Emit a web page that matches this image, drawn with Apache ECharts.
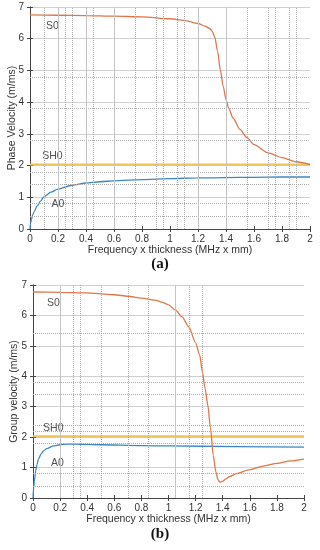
<!DOCTYPE html>
<html><head><meta charset="utf-8">
<script src="https://cdn.jsdelivr.net/npm/echarts@6/dist/echarts.min.js"></script>
<style>html,body{margin:0;padding:0;background:#fff}#c{width:320px;height:550px}</style>
</head><body><div id="c"></div>
<script>
// ---- (a) Phase velocity ----
const phaseS0F = [0,0.2,0.4,0.6,0.8,1.0,1.1,1.2,1.25,1.28,1.3,1.32,1.34,1.36,1.38,1.4,1.42,1.45,1.5,1.55,1.6,1.7,1.8,1.9,2.0];
const phaseS0V = [6.75,6.74,6.73,6.71,6.69,6.63,6.58,6.48,6.40,6.33,6.25,6.05,5.6,5.0,4.5,4.08,3.8,3.5,3.14,2.88,2.66,2.4,2.25,2.12,2.03];
const phaseA0F = [0,0.005,0.01,0.02,0.03,0.05,0.075,0.1,0.15,0.2,0.3,0.4,0.5,0.6,0.8,1.0,1.2,1.4,1.6,1.8,2.0];
const phaseA0V = [0,0.2,0.3,0.45,0.55,0.72,0.88,1.02,1.16,1.26,1.38,1.45,1.49,1.52,1.56,1.59,1.61,1.62,1.63,1.64,1.64];
const phaseSH0F = [0,2];
const phaseSH0V = [2.03,2.03];
// ---- (b) Group velocity ----
const groupS0F = [0,0.2,0.4,0.5,0.6,0.7,0.8,0.9,0.95,1.0,1.05,1.1,1.15,1.2,1.23,1.25,1.27,1.29,1.31,1.33,1.35,1.365,1.38,1.4,1.42,1.45,1.5,1.6,1.7,1.8,1.9,2.0];
const groupS0V = [6.77,6.76,6.74,6.71,6.68,6.63,6.57,6.5,6.44,6.35,6.18,5.95,5.62,5.1,4.7,4.15,3.6,3.05,2.3,1.4,0.85,0.6,0.52,0.55,0.62,0.7,0.8,0.93,1.05,1.14,1.22,1.28];
const groupA0F = [0,0.005,0.01,0.02,0.03,0.04,0.06,0.08,0.1,0.15,0.2,0.25,0.3,0.5,0.8,1.0,1.5,2.0];
const groupA0V = [0,0.35,0.55,0.9,1.1,1.28,1.45,1.56,1.62,1.71,1.75,1.77,1.77,1.75,1.72,1.71,1.69,1.67];
const groupSH0F = [0,2];
const groupSH0V = [2.03,2.03];
// mode labels [name, f, v]
const labelsA = [["S0",0.16,6.4],["SH0",0.16,2.3],["A0",0.2,0.78]];
const labelsB = [["S0",0.15,6.4],["SH0",0.15,2.3],["A0",0.18,1.15]];
// axis ticks
const xMin = 0, xMax = 2, xStep = 0.2;
const yMin = 0, yMax = 7, yStep = 1;
const xTitle = "Frequency x thickness (MHz x mm)";
const yTitleA = "Phase Velocity (m/ms)";
const yTitleB = "Group velocity (m/ms)";
// reference grid lines (background)
const gridAh = [0.4,0.8,1.4,1.8,2.8,3.8,4.8];
const gridAvSolid = [0.2,0.4,0.6,1.2,1.4];
const gridAvDot = [0.1,0.25,0.3,0.45,0.75,0.9,0.95,1.05,1.1,1.55,1.7,1.75,1.85,1.9];
const gridBh = [0.4,0.8,1.8,2.2,2.4,3.4,3.8,5.4];
const gridBvSolid = [0.2,1.05];
const gridBvDot = [0.3,0.35,0.5,0.7,0.85,1.15,1.25];

const C_S0 = '#e0764a', C_SH0 = '#efc257', C_A0 = '#3d88c4';
const FONT = 'Liberation Sans';
const zip = (a,b)=>a.map((x,i)=>[x,b[i]]);

function axesFor(g, yTitle, yGap) {
  const common = {gridIndex:g, min:xMin, max:xMax, interval:xStep};
  const yc = {gridIndex:g, min:yMin, max:yMax, interval:yStep};
  const lineS = {show:true, lineStyle:{color:'#444', width:1}};
  return {
    x:[
      Object.assign({}, common, {type:'value', position:'bottom', name:xTitle, nameLocation:'middle', nameGap:16,
        nameMoveOverlap:false,
        nameTextStyle:{fontFamily:FONT, fontSize:10.5, color:'#333'},
        axisLine:lineS, axisTick:{inside:true, length:3, lineStyle:{color:'#444'}},
        axisLabel:{fontFamily:FONT, fontSize:10, color:'#333', margin:5},
        splitLine:{show:false}}),
      Object.assign({}, common, {type:'value', position:'top', axisLine:lineS,
        axisTick:{inside:true, length:3, lineStyle:{color:'#444'}}, axisLabel:{show:false}, splitLine:{show:false}})
    ],
    y:[
      Object.assign({}, yc, {type:'value', position:'left', name:yTitle, nameLocation:'middle', nameGap:yGap,
        nameMoveOverlap:false,
        nameTextStyle:{fontFamily:FONT, fontSize:10.5, color:'#333'},
        axisLine:lineS, axisTick:{inside:true, length:3, lineStyle:{color:'#444'}},
        axisLabel:{fontFamily:FONT, fontSize:10, color:'#333', margin:6},
        splitLine:{show:true, lineStyle:{color:'#d0d0d0', width:1}}}),
      Object.assign({}, yc, {type:'value', position:'right', axisLine:lineS,
        axisTick:{inside:true, length:3, lineStyle:{color:'#444'}}, axisLabel:{show:false}, splitLine:{show:false}})
    ]
  };
}
const aA = axesFor(0, yTitleA, 12);
const aB = axesFor(1, yTitleB, 13);

function gridLines(xi, yi, hs, vsS, vsD) {
  const d = [];
  hs.forEach(v=>d.push({yAxis:v, lineStyle:{type:'dotted', color:'#aaa', width:1}}));
  vsS.forEach(v=>d.push({xAxis:v, lineStyle:{type:'solid', color:'#c4c4c4', width:1}}));
  vsD.forEach(v=>d.push({xAxis:v, lineStyle:{type:'dotted', color:'#aaa', width:1}}));
  return {type:'line', xAxisIndex:xi, yAxisIndex:yi, data:[], silent:true, z:1,
    markLine:{silent:true, symbol:['none','none'], label:{show:false}, animation:false, data:d}};
}
function curve(xi, yi, f, v, color, w) {
  return {type:'line', xAxisIndex:xi, yAxisIndex:yi, data:zip(f,v), showSymbol:false,
    smooth:0.25, smoothMonotone:'x',
    lineStyle:{color:color, width:w}, z:3, animation:false};
}
function labels(xi, yi, arr) {
  return {type:'scatter', xAxisIndex:xi, yAxisIndex:yi, symbolSize:0, z:4, animation:false,
    data:arr.map(a=>({value:[a[1],a[2]], name:a[0]})),
    label:{show:true, position:'inside', formatter:p=>p.name, fontFamily:FONT, fontSize:10.5, color:'#222'}};
}

const option = {
  animation:false,
  grid:[
    {left:30, top:7, width:280, height:222, containLabel:false, outerBoundsMode:'none'},
    {left:33, top:285, width:271, height:213, containLabel:false, outerBoundsMode:'none'}
  ],
  xAxis:[...aA.x, ...aB.x],
  yAxis:[...aA.y, ...aB.y],
  series:[
    gridLines(0,0,gridAh,gridAvSolid,gridAvDot),
    gridLines(2,2,gridBh,gridBvSolid,gridBvDot),
    curve(0,0,phaseSH0F,phaseSH0V,C_SH0,2),
    curve(0,0,phaseA0F,phaseA0V,C_A0,1.3),
    curve(0,0,phaseS0F,phaseS0V,C_S0,1.3),
    labels(0,0,labelsA),
    curve(2,2,groupSH0F,groupSH0V,C_SH0,2),
    curve(2,2,groupA0F,groupA0V,C_A0,1.3),
    curve(2,2,groupS0F,groupS0V,C_S0,1.3),
    labels(2,2,labelsB)
  ],
  graphic:[
    {type:'text', left:'center', top:257, style:{text:'(a)', font:'bold 15px "Liberation Serif"', fill:'#111'}},
    {type:'text', left:'center', top:527, style:{text:'(b)', font:'bold 15px "Liberation Serif"', fill:'#111'}}
  ]
};
const chart = echarts.init(document.getElementById('c'), null, {renderer:'canvas'});
chart.setOption(option);
</script></body></html>
